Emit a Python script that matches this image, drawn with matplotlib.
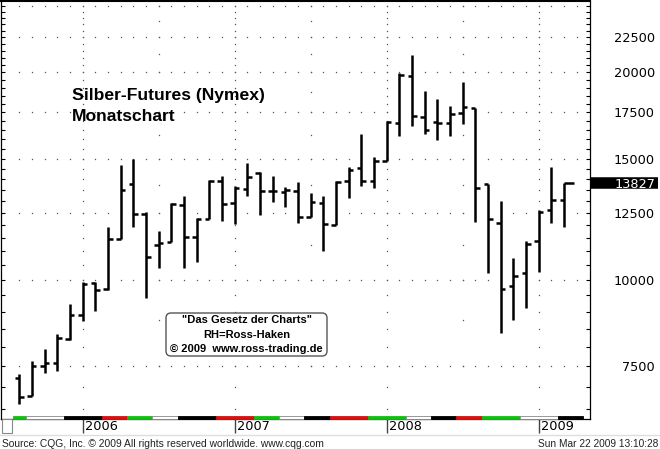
import numpy as np
import matplotlib
matplotlib.use('Agg')
import matplotlib.pyplot as plt
import matplotlib.transforms as mtransforms
from matplotlib.ticker import FixedLocator, FixedFormatter, NullFormatter
from matplotlib.patches import Rectangle, FancyBboxPatch
from matplotlib.lines import Line2D

# ---------------- data (monthly OHLC, silver futures, in US cents) ----------------
months = ['Aug 2005', 'Sep 2005', 'Oct 2005', 'Nov 2005', 'Dec 2005',
          'Jan 2006', 'Feb 2006', 'Mar 2006', 'Apr 2006', 'May 2006', 'Jun 2006',
          'Jul 2006', 'Aug 2006', 'Sep 2006', 'Oct 2006', 'Nov 2006', 'Dec 2006',
          'Jan 2007', 'Feb 2007', 'Mar 2007', 'Apr 2007', 'May 2007', 'Jun 2007',
          'Jul 2007', 'Aug 2007', 'Sep 2007', 'Oct 2007', 'Nov 2007', 'Dec 2007',
          'Jan 2008', 'Feb 2008', 'Mar 2008', 'Apr 2008', 'May 2008', 'Jun 2008',
          'Jul 2008', 'Aug 2008', 'Sep 2008', 'Oct 2008', 'Nov 2008', 'Dec 2008',
          'Jan 2009', 'Feb 2009', 'Mar 2009']
opens = [7220, 6800, 7500, 7570, 8210, 8900, 9890, 9690, 11450, 13770, 12470,
         11230, 11360, 12850, 11530, 12250, 13920, 12950, 13570, 14310, 13460,
         13400, 13480, 12350, 12920, 12020, 13930, 14550, 13920, 14890, 16910,
         19770, 17250, 16960, 16880, 17450, 17780, 13770, 12110, 9810, 10230,
         11390, 12630, 13060]
highs = [7310, 7630, 7930, 8350, 9220, 9920, 9920, 11920, 14670, 15000, 12550,
         11780, 12920, 13240, 12290, 13960, 14170, 13690, 14760, 14330, 14170,
         13630, 13860, 13380, 13250, 13930, 14600, 16270, 15060, 17020, 19940,
         21200, 18800, 18300, 17880, 19390, 17780, 13770, 13030, 10770, 11390,
         12630, 14570, 13830]
lows = [6610, 6780, 7340, 7390, 8190, 8720, 9020, 9670, 11450, 11950, 9410,
        10400, 11360, 10400, 10630, 12250, 12190, 12040, 13240, 12420, 12990,
        12750, 12110, 12350, 11030, 12020, 13140, 13700, 13580, 14890, 16190,
        16740, 16270, 15960, 16190, 16820, 12150, 10250, 8390, 8750, 9100,
        10280, 12080, 11920]
closes = [6760, 7500, 7570, 8230, 8900, 9860, 9670, 11480, 13490, 12470, 10810,
          11300, 12890, 11530, 12250, 13920, 12890, 13580, 14090, 13460, 13460,
          13500, 12330, 12960, 12060, 13890, 14440, 13920, 14890, 16960, 19830,
          17290, 16500, 16880, 17410, 17800, 13580, 12260, 9700, 10150, 11280,
          12560, 13060, 13827]

year_months = ['Jan 2006', 'Jan 2007', 'Jan 2008', 'Jan 2009']
year_labels = ['2006', '2007', '2008', '2009']
mid_months = ['Jul 2006', 'Jul 2007', 'Jul 2008']
y_major = [7500, 10000, 12500, 15000, 17500, 20000, 22500]
y_major_labels = ['7500', '10000', '12500', '15000', '17500', '20000', '22500']
grid_rows = [7500, 10000, 12500, 15000, 17500, 20000, 22500, 25000]

# seasonal strip at the bottom of the chart (colour, length in months)
strip_colors = ['#10c010', 'white', 'black', '#d81010', '#10c010', 'white', 'black',
                '#d81010', '#10c010', 'white', 'black', '#d81010', '#10c010', 'white',
                'black', '#d81010', '#10c010', 'white', 'black']
strip_lengths = [1, 3, 3, 2, 2, 2, 3, 3, 2, 2, 2, 3, 3, 2, 2, 2, 3, 3, 2]

# ---------------- figure ----------------
W, H = 660, 449
plt.rcParams['font.family'] = ['DejaVu Sans']
fig = plt.figure(figsize=(W / 100, H / 100), dpi=100)
fig.patch.set_facecolor('white')


def px_axes(x0, y0, x1, y1):
    return fig.add_axes([x0 / W, 1 - y1 / H, (x1 - x0) / W, (y1 - y0) / H])


ax = px_axes(1, 1, 590, 419)
x = np.arange(len(months))
idx = {m: i for i, m in enumerate(months)}

ax.set_yscale('log')
ax.set_xlim(-1.44, 45.04)
ax.set_ylim(6287, 25386)

# dotted grid
dot_kw = dict(ls='none', marker='s', ms=0.9, mew=0, color='#555555', zorder=1)
xg = np.arange(len(months) + 1)
for lvl in grid_rows:
    ax.plot(xg, np.full(len(xg), lvl), **dot_kw)
minor_levels = np.arange(6500, 25001, 500)
for m in year_months:
    ax.plot(np.full(len(minor_levels), idx[m]), minor_levels, **dot_kw)
mid_levels = np.arange(7500, 25001, 1250)
for m in mid_months:
    ax.plot(np.full(len(mid_levels), idx[m]), mid_levels, **dot_kw)

# OHLC bars
lw = 1.8
tick_l = np.full(len(x), 0.36)
tick_r = np.full(len(x), 0.36)
tick_r[-1] = 0.8
ax.vlines(x, lows, highs, color='black', lw=lw, zorder=3)
ax.hlines(opens, x - tick_l, x, color='black', lw=lw, zorder=3)
ax.hlines(closes, x, x + tick_r, color='black', lw=lw, zorder=3)

# y axis
ax.yaxis.set_major_locator(FixedLocator(y_major))
ax.yaxis.set_major_formatter(FixedFormatter(y_major_labels))
ax.yaxis.set_minor_locator(FixedLocator(minor_levels))
ax.yaxis.set_minor_formatter(NullFormatter())
ax.tick_params(axis='y', which='both', direction='in', length=3, width=0.8,
               left=True, right=True, labelleft=False, labelright=True,
               pad=46.8, labelsize=9.3, colors='black')
for lbl in ax.get_yticklabels():
    lbl.set_horizontalalignment('right')

# x axis: year separator ticks
ax.set_xticks([idx[m] for m in year_months])
ax.set_xticklabels([])
ax.tick_params(axis='x', which='both', direction='out', length=10, width=1,
               color='#444444', bottom=True, top=False)
blend = mtransforms.blended_transform_factory(ax.transData, ax.transAxes)
for m, lab in zip(year_months, year_labels):
    ax.annotate(lab, xy=(idx[m], 0), xycoords=blend, xytext=(2, -1),
                textcoords='offset pixels', ha='left', va='top', fontsize=9.3,
                color='black', annotation_clip=False)

# seasonal strip
start = -0.5
sh = 3 / 418
for c, ln in zip(strip_colors, strip_lengths):
    ec = '#888888' if c == 'white' else c
    ax.add_patch(Rectangle((start, 0), ln, sh, transform=blend, facecolor=c,
                           edgecolor=ec, lw=0.6, zorder=4, clip_on=False))
    start += ln

for s in ax.spines.values():
    s.set_color('black')
    s.set_linewidth(0.9)
ax.spines['top'].set_linewidth(1.5)

# last price marker
ytr = ax.get_yaxis_transform()
ax.plot([1.0, (658 - 1) / 589], [closes[-1], closes[-1]], transform=ytr,
        color='black', lw=8.3, solid_capstyle='butt', clip_on=False, zorder=5)
ax.text((655 - 1) / 589, closes[-1], f'{closes[-1]:.0f}', transform=ytr,
        color='white', ha='right', va='center_baseline', fontsize=9.3,
        clip_on=False, zorder=6)

# titles
pt = fig.dpi_scale_trans
fig.text(72 / 100, (H - 100) / 100, 'Silber-Futures (Nymex)', transform=pt,
         fontsize=12.6, fontweight='bold', family='Liberation Sans', va='baseline')
fig.text(72 / 100, (H - 120.7) / 100, 'Monatschart', transform=pt,
         fontsize=12.6, fontweight='bold', family='Liberation Sans', va='baseline')

# copyright box
box = FancyBboxPatch((166 / 100, (H - 356) / 100), (327 - 166) / 100, (356 - 313) / 100,
                     boxstyle='round,pad=0,rounding_size=0.05', transform=pt,
                     facecolor='white', edgecolor='#555555', lw=1.0, zorder=5)
fig.add_artist(box)
for ty, s in zip([320, 334.5, 349.3],
                 ['"Das Gesetz der Charts"', 'RH=Ross-Haken', '\u00a9 2009  www.ross-trading.de']):
    fig.text(246.5 / 100, (H - ty) / 100, s, transform=pt, ha='center', va='center',
             fontsize=8, fontweight='bold', family='Liberation Sans', zorder=6)

# small scroll box at bottom-left
fig.add_artist(Rectangle((2 / 100, (H - 433) / 100), 10 / 100, 14 / 100, transform=pt,
                         facecolor='white', edgecolor='#888888', lw=0.8))

# separator line and footer
fig.add_artist(Line2D([0, 1], [1 - 435 / H, 1 - 435 / H], transform=fig.transFigure,
                      color='#d6e4d6', lw=1))
fig.text(2 / 100, (H - 446.7) / 100,
         'Source: CQG, Inc. \u00a9 2009 All rights reserved worldwide. www.cqg.com',
         transform=pt, fontsize=7.4, family='Liberation Sans', color='#222222',
         va='baseline', ha='left')
fig.text(658 / 100, (H - 446.7) / 100, 'Sun Mar 22 2009 13:10:28', transform=pt,
         fontsize=7.3, family='Liberation Sans', color='#222222', va='baseline', ha='right')

fig.savefig('out.png', dpi=100, facecolor='white')
